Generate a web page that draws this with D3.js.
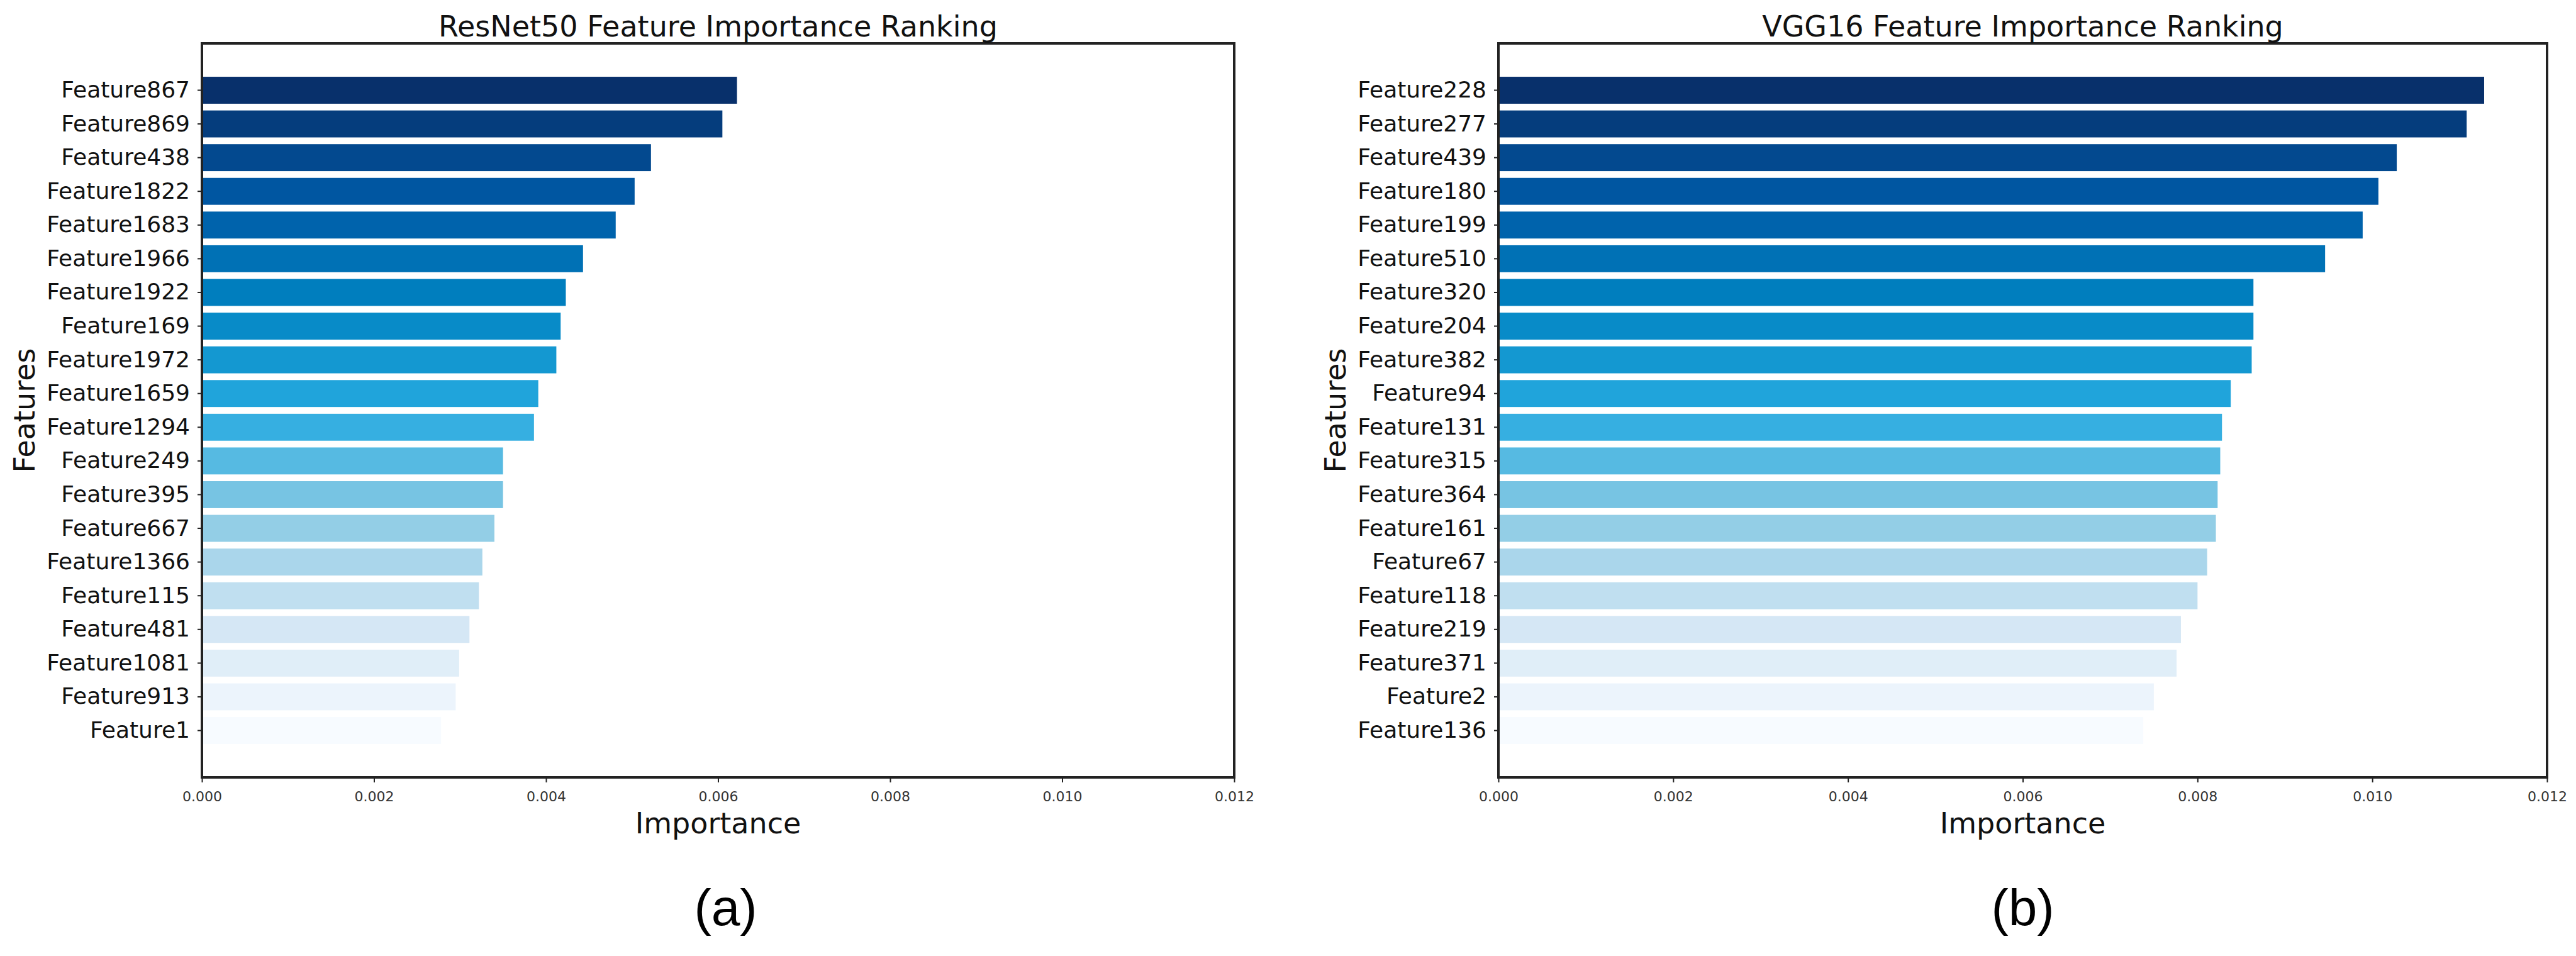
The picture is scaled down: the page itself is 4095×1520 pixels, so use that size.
<!DOCTYPE html>
<html>
<head>
<meta charset="utf-8">
<script src="https://cdn.jsdelivr.net/npm/d3@7"></script>
<style>
	body { margin: 0; background: #fff; }
	text { font-family: "DejaVu Sans", sans-serif; }
</style>
</head>
<body>
<div id="chartDiv"></div>
<script>
;(function() {

	// ResNet50 panel
	var resnetFeatures = ["Feature867", "Feature869", "Feature438", "Feature1822", "Feature1683",
		"Feature1966", "Feature1922", "Feature169", "Feature1972", "Feature1659",
		"Feature1294", "Feature249", "Feature395", "Feature667", "Feature1366",
		"Feature115", "Feature481", "Feature1081", "Feature913", "Feature1"];
	var resnetImportance = [0.00622, 0.00605, 0.00522, 0.00503, 0.00481,
		0.00443, 0.00423, 0.00417, 0.00412, 0.00391,
		0.00386, 0.00350, 0.00350, 0.00340, 0.00326,
		0.00322, 0.00311, 0.00299, 0.00295, 0.00278];

	// VGG16 panel
	var vggFeatures = ["Feature228", "Feature277", "Feature439", "Feature180", "Feature199",
		"Feature510", "Feature320", "Feature204", "Feature382", "Feature94",
		"Feature131", "Feature315", "Feature364", "Feature161", "Feature67",
		"Feature118", "Feature219", "Feature371", "Feature2", "Feature136"];
	var vggImportance = [0.01128, 0.01108, 0.01028, 0.01007, 0.00989,
		0.00946, 0.00864, 0.00864, 0.00862, 0.00838,
		0.00828, 0.00826, 0.00823, 0.00821, 0.00811,
		0.00800, 0.00781, 0.00776, 0.00750, 0.00738];

	var xTicks = [0, 0.002, 0.004, 0.006, 0.008, 0.010, 0.012];
	var xDomain = [0, 0.012];

	var width = 4095;
	var height = 1520;
	var plotTop = 69;
	var plotBottom = 1236;

	// blues, darkest first
	var barPalette = ["#08306b", "#0058a4", "#0083c1", "#26aae0", "#8ccbe4", "#d3e6f4", "#f7fbff"];
	var barColor = d3.piecewise(d3.interpolateRgb, barPalette);

	var panels = [
		{ title: "ResNet50 Feature Importance Ranking", tag: "(a)", features: resnetFeatures,
			values: resnetImportance, left: 321, right: 1962, tagDx: 12 },
		{ title: "VGG16 Feature Importance Ranking", tag: "(b)", features: vggFeatures,
			values: vggImportance, left: 2382, right: 4049, tagDx: 0 }
	];

	var chart = d3.select("#chartDiv").append("svg")
		.attr("width", width)
		.attr("height", height);

	panels.forEach(drawPanel);

	function drawPanel(p) {
		var g = chart.append("g");
		var cx = (p.left + p.right) / 2;

		var xScale = d3.scaleLinear()
			.domain(xDomain)
			.range([p.left, p.right]);

		var yScale = d3.scaleBand()
			.domain(p.features)
			.range([plotTop, plotBottom])
			.paddingInner(0.2)
			.paddingOuter(0.99);

		g.selectAll(".bar")
			.data(p.features)
			.enter().append("rect")
				.attr("class", "bar")
				.attr("x", xScale(0))
				.attr("y", function(d) { return yScale(d); })
				.attr("width", function(d, i) { return xScale(p.values[i]) - xScale(0); })
				.attr("height", yScale.bandwidth())
				.attr("fill", function(d, i) { return barColor(i / (p.features.length - 1)); });

		// x axis
		var xAxis = d3.axisBottom(xScale)
			.tickValues(xTicks)
			.tickFormat(d3.format(".3f"))
			.tickSize(8)
			.tickPadding(14);

		var xg = g.append("g")
			.attr("transform", "translate(0," + plotBottom + ")")
			.call(xAxis);
		xg.select(".domain").remove();
		xg.selectAll("line").attr("stroke", "#222").attr("stroke-width", 2);
		xg.selectAll("text")
			.style("font-family", "DejaVu Sans")
			.style("font-size", "22px")
			.attr("fill", "#333");

		// y axis
		var yAxis = d3.axisLeft(yScale)
			.tickSize(7)
			.tickPadding(12);

		var yg = g.append("g")
			.attr("transform", "translate(" + p.left + ",0)")
			.call(yAxis);
		yg.select(".domain").remove();
		yg.selectAll("line").attr("stroke", "#222").attr("stroke-width", 2);
		yg.selectAll("text")
			.style("font-family", "DejaVu Sans")
			.style("font-size", "36px")
			.attr("fill", "#111");

		var minLabelX = d3.min(yg.selectAll("text").nodes(), function(n) {
			return n.getBBox().x;
		}) + p.left;

		// frame
		g.append("rect")
			.attr("x", p.left)
			.attr("y", plotTop)
			.attr("width", p.right - p.left)
			.attr("height", plotBottom - plotTop)
			.attr("fill", "none")
			.attr("stroke", "#222")
			.attr("stroke-width", 4);

		g.append("text")
			.attr("x", cx)
			.attr("y", 58)
			.attr("text-anchor", "middle")
			.style("font-size", "46px")
			.attr("fill", "#111")
			.text(p.title);

		g.append("text")
			.attr("x", cx)
			.attr("y", 1325)
			.attr("text-anchor", "middle")
			.style("font-size", "46px")
			.attr("fill", "#111")
			.text("Importance");

		g.append("text")
			.attr("text-anchor", "middle")
			.attr("transform", "translate(" + (minLabelX - 19) + "," + ((plotTop + plotBottom) / 2) + ") rotate(-90)")
			.style("font-size", "46px")
			.attr("fill", "#111")
			.text("Features");

		g.append("text")
			.attr("x", cx + p.tagDx)
			.attr("y", 1471)
			.attr("text-anchor", "middle")
			.style("font-family", "Liberation Sans, Arial, sans-serif")
			.style("font-size", "82px")
			.attr("fill", "#000")
			.text(p.tag);
	}
})();
</script>
</body>
</html>
